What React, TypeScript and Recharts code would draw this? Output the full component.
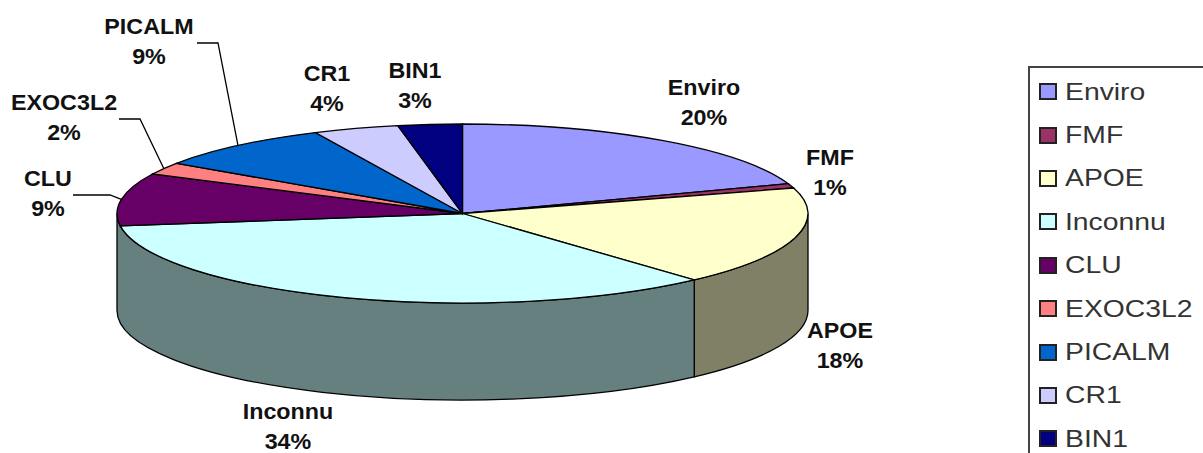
import { Legend, Pie, PieChart } from "recharts";

const names = ["Enviro", "FMF", "APOE", "Inconnu", "CLU", "EXOC3L2", "PICALM", "CR1", "BIN1"];
const shares = [19.6, 0.8, 17.9, 34.49, 9.49, 2.2, 8.52, 4, 3];
const topColors = ["#9999FF", "#993366", "#FFFFCC", "#CCFFFF", "#660066", "#FF8080", "#0066CC", "#CCCCFF", "#000080"];
const wallColors: Record<string, string> = { APOE: "#808066", Inconnu: "#668080" };

const data = names.map((name, i) => ({ name, value: shares[i], fill: topColors[i] }));

const CX = 462.5;
const CY = 213.5;
const RX = 345.5;
const TILT = 0.259;
const DEPTH = 97;
const RAD = Math.PI / 180;

// where each label sits, plus the elbow of its leader line when it has one
const labelSpots: Record<string, { x: number; y: number; elbow?: number[] }> = {
  Enviro: { x: 704, y: 95 },
  FMF: { x: 830, y: 165 },
  APOE: { x: 840, y: 338 },
  Inconnu: { x: 288, y: 419 },
  CLU: { x: 48, y: 186, elbow: [73, 195, 110, 195] },
  EXOC3L2: { x: 64, y: 110, elbow: [119, 119, 140, 119] },
  PICALM: { x: 149, y: 34, elbow: [197, 43, 218, 43] },
  CR1: { x: 327, y: 81 },
  BIN1: { x: 415, y: 78 },
};

const rimPoint = (angle: number, r: number, cx: number, cy: number) => ({
  x: cx + r * Math.cos(angle * RAD),
  y: cy - r * TILT * Math.sin(angle * RAD),
});

function TiltedSlice(props: any) {
  const { cx, cy, outerRadius: r, startAngle, endAngle, fill, name } = props;
  const ry = r * TILT;
  const a = rimPoint(startAngle, r, cx, cy);
  const b = rimPoint(endAngle, r, cx, cy);
  const large = Math.abs(startAngle - endAngle) > 180 ? 1 : 0;

  // the reference only shows two wall pieces; Inconnu's runs on to the far left of the rim
  let wall = null;
  if (wallColors[name]) {
    const w1 = rimPoint(Math.min(startAngle, 0), r, cx, cy);
    const w2 = rimPoint(name === "Inconnu" ? -180 : endAngle, r, cx, cy);
    wall = (
      <path
        d={`M${w1.x},${w1.y} A${r},${ry} 0 0 1 ${w2.x},${w2.y} L${w2.x},${w2.y + DEPTH} A${r},${ry} 0 0 0 ${w1.x},${w1.y + DEPTH} Z`}
        fill={wallColors[name]}
        stroke="#000"
        strokeWidth={1.3}
      />
    );
  }

  return (
    <g>
      {wall}
      <path
        d={`M${cx},${cy} L${a.x},${a.y} A${r},${ry} 0 ${large} 1 ${b.x},${b.y} Z`}
        fill={fill}
        stroke="#000"
        strokeWidth={1.3}
      />
    </g>
  );
}

function SliceLabel(props: any) {
  const { name, value, midAngle, cx, cy, outerRadius } = props;
  const spot = labelSpots[name];
  const rim = rimPoint(midAngle, outerRadius, cx, cy);
  const stretch = `translate(${spot.x} 0) scale(1.06 1) translate(${-spot.x} 0)`;
  return (
    <g>
      {spot.elbow && (
        <polyline
          points={`${spot.elbow.join(" ")} ${rim.x} ${rim.y}`}
          fill="none"
          stroke="#000"
          strokeWidth={1.3}
        />
      )}
      <text
        transform={stretch}
        textAnchor="middle"
        fontFamily="'Liberation Sans', Arial, sans-serif"
        fontWeight="bold"
        fontSize={22}
        fill="#111"
      >
        <tspan x={spot.x} y={spot.y}>{name}</tspan>
        <tspan x={spot.x} y={spot.y + 30}>{Math.round(value)}%</tspan>
      </text>
    </g>
  );
}

function LegendBox(props: any) {
  const items = props.payload || [];
  return (
    <div style={{ border: "2px solid #444", width: 220, height: 420, paddingTop: 2, boxSizing: "border-box" }}>
      {items.map((item: any) => (
        <div key={item.value} style={{ height: 43.4, display: "flex", alignItems: "center", marginLeft: 9 }}>
          <span
            style={{
              width: 18,
              height: 17,
              boxSizing: "border-box",
              border: "2px solid #222",
              background: item.color,
              marginRight: 8,
              flex: "none",
            }}
          />
          <span
            style={{
              fontFamily: "'Liberation Sans', Arial, sans-serif",
              fontSize: 24,
              color: "#333",
              transform: "scaleX(1.18)",
              transformOrigin: "left center",
              whiteSpace: "nowrap",
            }}
          >
            {item.value}
          </span>
        </div>
      ))}
    </div>
  );
}

export default function App() {
  return (
    <div style={{ position: "absolute", left: 0, top: 0, width: 1203, height: 453, overflow: "hidden", background: "#fff" }}>
      <PieChart width={1203} height={453} margin={{ top: 0, right: 0, bottom: 0, left: 0 }}>
        <Pie
          data={data}
          dataKey="value"
          nameKey="name"
          cx={CX}
          cy={CY}
          innerRadius={0}
          outerRadius={RX}
          startAngle={90}
          endAngle={-270}
          paddingAngle={0}
          shape={TiltedSlice}
          label={SliceLabel}
          labelLine={false}
          isAnimationActive={false}
        />
        <Legend
          content={LegendBox}
          itemSorter={null}
          wrapperStyle={{ position: "absolute", left: 1028, top: 66, width: 220, height: 420 }}
        />
      </PieChart>
    </div>
  );
}
